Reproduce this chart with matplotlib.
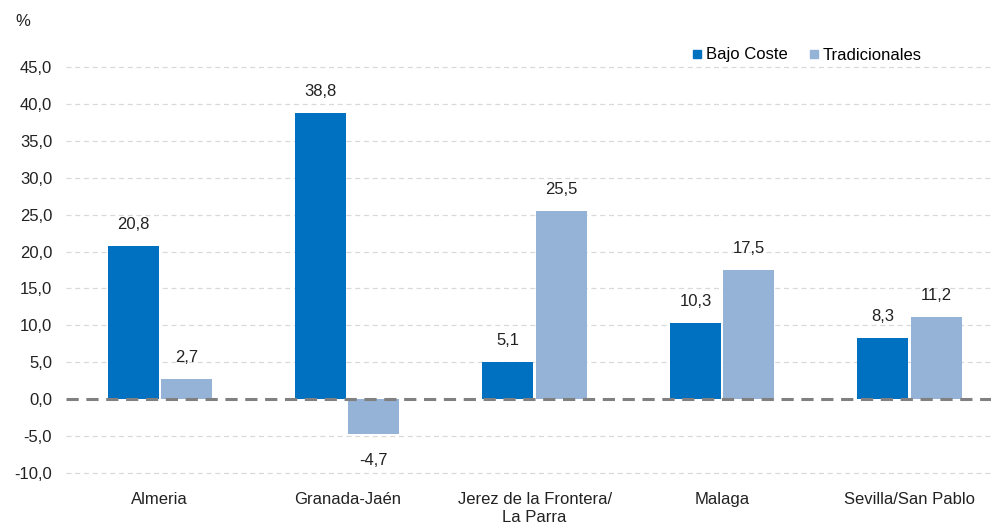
import numpy as np
import matplotlib
matplotlib.use("Agg")
import matplotlib.pyplot as plt
from matplotlib.lines import Line2D

categorias = ["Almeria", "Granada-Jaén", "Jerez de la Frontera/\nLa Parra", "Malaga", "Sevilla/San Pablo"]
bajo_coste = [20.8, 38.8, 5.1, 10.3, 8.3]
tradicionales = [2.7, -4.7, 25.5, 17.5, 11.2]
yticks = [-10, -5, 0, 5, 10, 15, 20, 25, 30, 35, 40, 45]

azul = "#0070C0"
celeste = "#95B3D7"

plt.rcParams['font.family'] = ['Liberation Sans', 'DejaVu Sans']
plt.rcParams['font.size'] = 12

fig = plt.figure(figsize=(9.91, 5.30), dpi=100)
ax = fig.add_axes([66/991, 57/530, 925/991, 406/530])

x = np.arange(len(categorias))
w = 0.272
off = 0.142
b1 = ax.bar(x - off, bajo_coste, w, color=azul, zorder=3)
b2 = ax.bar(x + off, tradicionales, w, color=celeste, zorder=3)

def fmt(v):
    return ("%.1f" % v).replace(".", ",")

for bars, vals in ((b1, bajo_coste), (b2, tradicionales)):
    for r, v in zip(bars, vals):
        cx = r.get_x() + r.get_width() / 2
        if v >= 0:
            ax.annotate(fmt(v), (cx, v), xytext=(0, 14), textcoords="offset pixels",
                        ha="center", va="bottom", fontsize=12, color="#222222")
        else:
            ax.annotate(fmt(v), (cx, v), xytext=(0, -19), textcoords="offset pixels",
                        ha="center", va="top", fontsize=12, color="#222222")

ax.set_xlim(-0.5, 4.435)
ax.set_ylim(-10, 45)
ax.set_yticks(yticks)
ax.set_yticklabels([fmt(v) for v in yticks])
ax.set_xticks(x)
ax.set_xticklabels(categorias)
ax.tick_params(length=0, colors="#222222", labelsize=12)
ax.tick_params(axis="x", pad=14)
ax.tick_params(axis="y", pad=10)
for s in ax.spines.values():
    s.set_visible(False)
for t in yticks:
    if t != 0:
        ax.axhline(t, color="#D9D9D9", lw=0.9, ls=(0, (4, 3)), zorder=1, clip_on=False)
ax.axhline(0, color="#808080", lw=2.2, ls=(0, (4, 2.5)), zorder=4)

fig.text(15/991, 1 - 22/530, "%", fontsize=12, va="center", ha="left", color="#222222")

handles = [Line2D([], [], ls="", marker="s", markersize=6, color=azul),
           Line2D([], [], ls="", marker="s", markersize=6, color=celeste)]
fig.legend(handles, ["Bajo Coste", "Tradicionales"], loc="center left",
           bbox_to_anchor=(674/991, 1 - 55/530), ncol=2, frameon=False,
           handletextpad=0.0, columnspacing=1.1, handlelength=1.0, fontsize=12)

fig.savefig("out.png", dpi=100)
